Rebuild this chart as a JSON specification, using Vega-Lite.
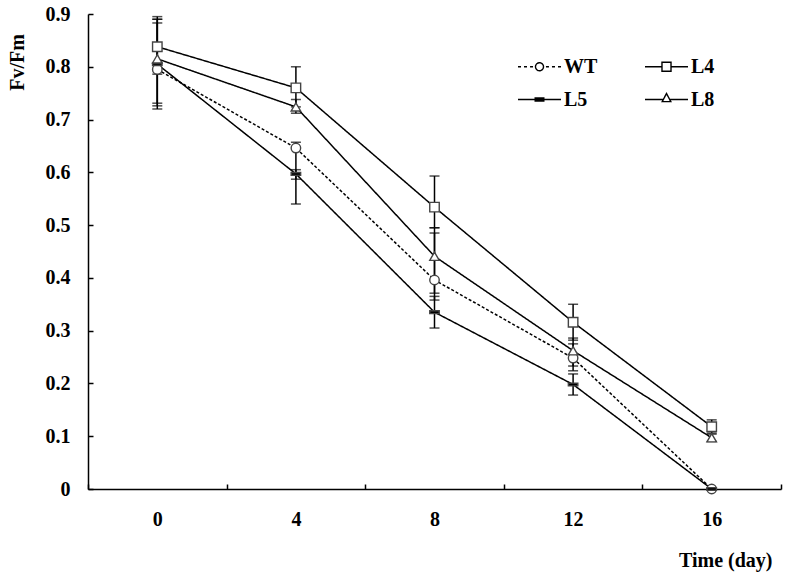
{
  "$schema": "https://vega.github.io/schema/vega-lite/v6.json",
  "autosize": "none",
  "padding": {"left": 88, "top": 14, "right": 4, "bottom": 87},
  "width": 693,
  "height": 475,
  "background": "white",
  "config": {
    "font": "Liberation Serif",
    "view": {"stroke": null},
    "axis": {
      "labelFont": "Liberation Serif",
      "labelFontWeight": "bold",
      "labelFontSize": 20,
      "labelColor": "black",
      "titleFont": "Liberation Serif",
      "titleFontWeight": "bold",
      "titleFontSize": 20,
      "titleColor": "black",
      "domainColor": "black",
      "domainWidth": 1.5,
      "tickColor": "black",
      "tickWidth": 1.5,
      "grid": false
    }
  },
  "data": {
    "values": [
      {"day": 0, "line": "WT", "v": 0.795, "lo": 0.720, "hi": 0.883},
      {"day": 4, "line": "WT", "v": 0.646, "lo": 0.540, "hi": 0.657},
      {"day": 8, "line": "WT", "v": 0.396, "lo": 0.358, "hi": 0.485},
      {"day": 12, "line": "WT", "v": 0.248, "lo": 0.224, "hi": 0.275},
      {"day": 16, "line": "WT", "v": 0.0, "lo": 0.0, "hi": 0.0},
      {"day": 0, "line": "L4", "v": 0.838, "lo": 0.786, "hi": 0.895},
      {"day": 4, "line": "L4", "v": 0.760, "lo": 0.724, "hi": 0.800},
      {"day": 8, "line": "L4", "v": 0.534, "lo": 0.495, "hi": 0.593},
      {"day": 12, "line": "L4", "v": 0.316, "lo": 0.282, "hi": 0.350},
      {"day": 16, "line": "L4", "v": 0.118, "lo": 0.106, "hi": 0.131},
      {"day": 0, "line": "L5", "v": 0.805, "lo": 0.726, "hi": 0.890},
      {"day": 4, "line": "L5", "v": 0.597, "lo": 0.587, "hi": 0.605},
      {"day": 8, "line": "L5", "v": 0.335, "lo": 0.305, "hi": 0.365},
      {"day": 12, "line": "L5", "v": 0.198, "lo": 0.178, "hi": 0.218},
      {"day": 16, "line": "L5", "v": 0.0, "lo": 0.0, "hi": 0.0},
      {"day": 0, "line": "L8", "v": 0.815, "lo": 0.731, "hi": 0.890},
      {"day": 4, "line": "L8", "v": 0.724, "lo": 0.712, "hi": 0.738},
      {"day": 8, "line": "L8", "v": 0.441, "lo": 0.371, "hi": 0.495},
      {"day": 12, "line": "L8", "v": 0.262, "lo": 0.233, "hi": 0.286},
      {"day": 16, "line": "L8", "v": 0.097, "lo": 0.090, "hi": 0.104}
    ]
  },
  "encoding": {
    "x": {
      "field": "day",
      "type": "ordinal",
      "sort": [0, 4, 8, 12, 16],
      "scale": {"type": "band", "paddingInner": 0, "paddingOuter": 0},
      "axis": {
        "title": "Time (day)",
        "labelAngle": 0,
        "tickBand": "extent",
        "tickSize": -5,
        "labelPadding": 35,
        "labelBaseline": "middle",
        "titleX": 684,
        "titleY": 71,
        "titleAlign": "right",
        "titleBaseline": "middle",
        "titleAnchor": "end"
      }
    }
  },
  "layer": [
    {
      "mark": {"type": "rule", "color": "black", "strokeWidth": 1.5},
      "encoding": {
        "y": {
          "field": "lo",
          "type": "quantitative",
          "scale": {"domain": [0, 0.9], "nice": false, "zero": true},
          "axis": {
            "title": "Fv/Fm",
            "values": [0, 0.1, 0.2, 0.3, 0.4, 0.5, 0.6, 0.7, 0.8, 0.9],
            "labelExpr": "datum.value == 0 ? '0' : format(datum.value, '.1f')",
            "tickSize": -5,
            "labelPadding": 23,
            "titleAngle": -90,
            "titleX": -71,
            "titleY": 48,
            "titleAlign": "center",
            "titleBaseline": "middle"
          }
        },
        "y2": {"field": "hi"},
        "opacity": {
          "field": "line",
          "type": "nominal",
          "scale": {"domain": ["WT", "L4", "L5", "L8"], "range": [1, 1, 1, 1]},
          "legend": {
            "title": " ",
            "titleFontSize": 1,
            "titlePadding": 0,
            "orient": "none",
            "legendX": 429,
            "legendY": 29,
            "direction": "horizontal",
            "columns": 2,
            "columnPadding": 44,
            "rowPadding": -3,
            "padding": 0,
            "symbolType": "square",
            "symbolSize": 1849,
            "symbolStrokeWidth": 1.4,
            "labelFont": "Liberation Serif",
            "labelFontWeight": "bold",
            "labelFontSize": 20,
            "labelColor": "black",
            "labelOffset": 2,
            "labelBaseline": "middle",
            "encoding": {
              "symbols": {
                "shape": {"value": {"expr": "datum.value == 'WT' ? 'M-1,0H-0.86M-0.72,0H-0.58M-0.44,0H-0.3M0.3,0H0.44M0.58,0H0.72M0.86,0H1M0.186,0A0.186,0.186 0 1,1 -0.186,0A0.186,0.186 0 1,1 0.186,0' : datum.value == 'L4' ? 'M-1,0H-0.21M0.21,0H1M-0.21,-0.21H0.21V0.21H-0.21Z' : datum.value == 'L5' ? 'M-1,0H1M-0.2,-0.07H0.2V0.07H-0.2Z' : 'M-1,0H-0.17M0.17,0H1M0,-0.28L0.2,0.1H-0.2Z'"}},
                "fill": {"value": {"expr": "datum.value == 'L5' ? 'black' : 'transparent'"}},
                "fillOpacity": {"value": 1},
                "stroke": {"value": "black"},
                "strokeDash": {"value": [1, 0]}
              }
            }
          }
        }
      }
    },
    {
      "mark": {"type": "tick", "color": "black", "thickness": 1.5, "size": 10},
      "encoding": {"y": {"field": "lo", "type": "quantitative"}}
    },
    {
      "mark": {"type": "tick", "color": "black", "thickness": 1.5, "size": 10},
      "encoding": {"y": {"field": "hi", "type": "quantitative"}}
    },
    {
      "mark": {"type": "line", "color": "black", "strokeWidth": 1.5},
      "encoding": {
        "y": {"field": "v", "type": "quantitative"},
        "strokeDash": {
          "field": "line",
          "type": "nominal",
          "scale": {"domain": ["L4", "L5", "L8", "WT"], "range": [[1, 0], [1, 0], [1, 0], [3, 2]]},
          "legend": null
        }
      }
    },
    {
      "mark": {"type": "point", "filled": true, "size": 90, "strokeWidth": 1.4, "opacity": 1},
      "encoding": {
        "y": {"field": "v", "type": "quantitative"},
        "shape": {
          "field": "line",
          "type": "nominal",
          "scale": {
            "domain": ["L4", "L5", "L8", "WT"],
            "range": ["square", "M-1,-0.3H1V0.3H-1Z", "triangle-up", "circle"]
          },
          "legend": null
        },
        "fill": {
          "condition": {"test": "datum.line == 'L5'", "value": "black"},
          "value": "white"
        },
        "stroke": {"value": "#444"}
      }
    }
  ]
}
